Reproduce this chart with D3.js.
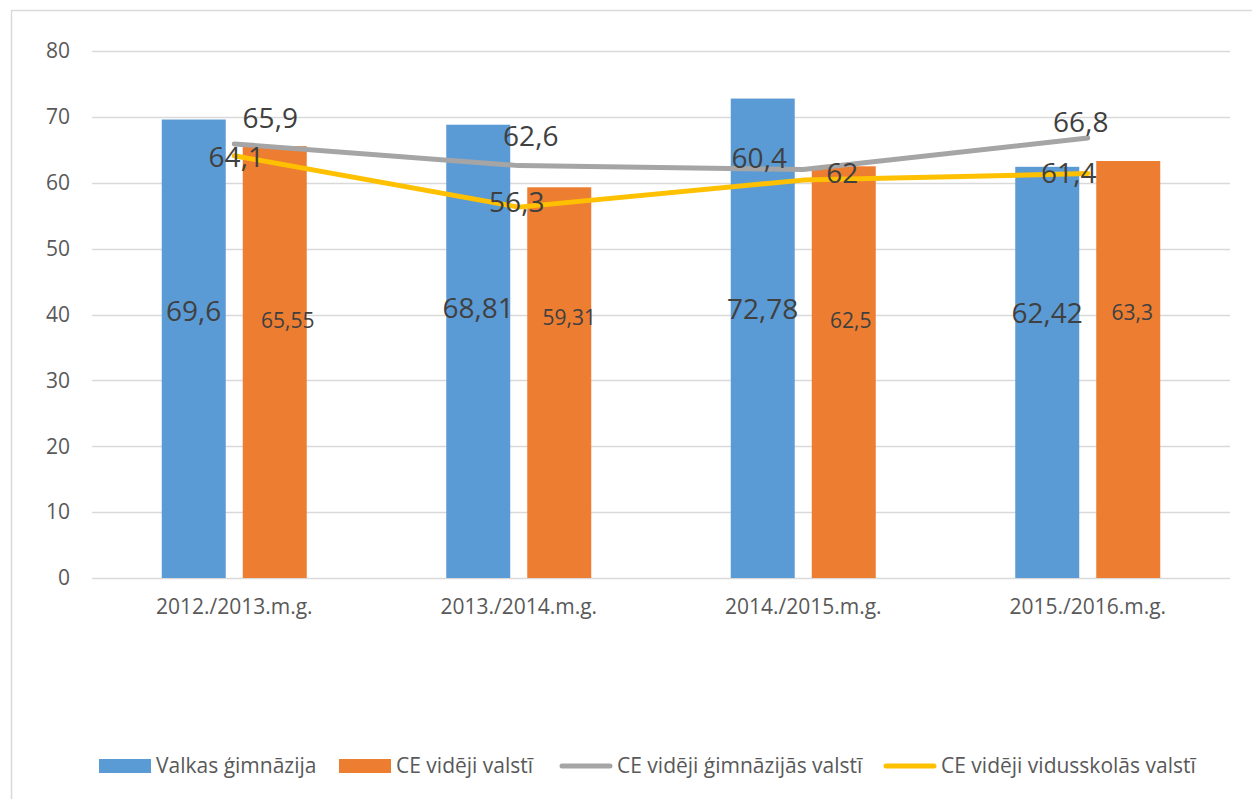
<!DOCTYPE html>
<html>
<head>
<meta charset="utf-8">
<script src="https://cdnjs.cloudflare.com/ajax/libs/d3/7.8.5/d3.min.js"></script>
<style>
  body { margin: 0; background: #fff; }
  text { font-family: "Open Sans", "Noto Sans", sans-serif; }
</style>
</head>
<body>
<div id="chart"></div>
<script>
// data
const years = ['2012./2013.m.g.', '2013./2014.m.g.', '2014./2015.m.g.', '2015./2016.m.g.'];
const valkas = [69.6, 68.81, 72.78, 62.42];          // Valkas ģimnāzija
const ceValsti = [65.55, 59.31, 62.5, 63.3];        // CE vidēji valstī
const ceGimnazijas = [65.9, 62.6, 62, 66.8];        // CE vidēji ģimnāzijās valstī
const ceVidusskolas = [64.1, 56.3, 60.4, 61.4];     // CE vidēji vidusskolās valstī
const yTicks = [0, 10, 20, 30, 40, 50, 60, 70, 80];

const seriesNames = ['Valkas ģimnāzija', 'CE vidēji valstī', 'CE vidēji ģimnāzijās valstī', 'CE vidēji vidusskolās valstī'];
const colors = ['#5b9bd5', '#ed7d31', '#a5a5a5', '#ffc000'];

// label nudges (the source chart had hand placed labels)
const barLabelPos = [
  [[0, -4], [0, -7], [0, -6], [0, -2]],     // blue, around y(40)
  [[13, 6], [10, 3], [7, 6], [4, -2]]       // orange
];
const lineLabelPos = [
  [[36, -26], [12, -30], [39, 3], [-7, -16]],   // grey
  [[2, 1], [-2, -5], [-44, -22], [-19, -1]]     // yellow
];

const width = 1252, height = 799;
const plot = {left: 92, right: 1230, top: 51, bottom: 578};

const svg = d3.select('#chart').append('svg')
    .attr('width', width)
    .attr('height', height);

// chart frame
svg.append('rect')
    .attr('x', 11.5).attr('y', 10.5)
    .attr('width', width + 10).attr('height', height + 10)
    .attr('fill', '#fff')
    .attr('stroke', '#d9d9d9')
    .attr('stroke-width', 1.5);

const x = d3.scaleBand().domain(years).range([plot.left, plot.right]).paddingInner(0).paddingOuter(0);
const y = d3.scaleLinear().domain([0, 80]).range([plot.bottom, plot.top]);
const xSub = d3.scaleBand().domain([0, 1]).range([-72.5, 72.5]).paddingInner(0.21).paddingOuter(0);
const cx = d => x(d) + x.bandwidth() / 2;

// gridlines
svg.append('g')
    .selectAll('line')
    .data(yTicks)
    .enter().append('line')
    .attr('x1', plot.left).attr('x2', plot.right)
    .attr('y1', d => Math.round(y(d)) + 0.5)
    .attr('y2', d => Math.round(y(d)) + 0.5)
    .attr('stroke', '#d9d9d9')
    .attr('stroke-width', 1.5);

// y tick labels
svg.append('g')
    .selectAll('text')
    .data(yTicks)
    .enter().append('text')
    .attr('x', 70)
    .attr('y', d => y(d))
    .attr('dy', '0.35em')
    .attr('text-anchor', 'end')
    .attr('fill', '#595959')
    .style('font-size', '21px')
    .text(d => d);

// x category labels
svg.append('g')
    .selectAll('text')
    .data(years)
    .enter().append('text')
    .attr('x', d => cx(d))
    .attr('y', 614)
    .attr('text-anchor', 'middle')
    .attr('fill', '#595959')
    .style('font-size', '21px')
    .text(d => d);

// bars
const barSeries = [valkas, ceValsti];
barSeries.forEach(function(vals, s){
    svg.append('g')
        .selectAll('rect')
        .data(vals)
        .enter().append('rect')
        .attr('x', (d, i) => cx(years[i]) + xSub(s))
        .attr('y', d => y(d))
        .attr('width', xSub.bandwidth())
        .attr('height', d => y(0) - y(d))
        .attr('fill', colors[s]);
});

// lines
const lineSeries = [ceGimnazijas, ceVidusskolas];
const line = d3.line()
    .x((d, i) => cx(years[i]))
    .y(d => y(d));
lineSeries.forEach(function(vals, s){
    svg.append('path')
        .datum(vals)
        .attr('d', line)
        .attr('fill', 'none')
        .attr('stroke', colors[s + 2])
        .attr('stroke-width', 5)
        .attr('stroke-linecap', 'round')
        .attr('stroke-linejoin', 'round');
});

const fmt = v => String(v).replace('.', ',');

// bar labels
barSeries.forEach(function(vals, s){
    svg.append('g')
        .selectAll('text')
        .data(vals)
        .enter().append('text')
        .attr('x', (d, i) => cx(years[i]) + xSub(s) + xSub.bandwidth() / 2 + barLabelPos[s][i][0])
        .attr('y', (d, i) => y(40) + barLabelPos[s][i][1])
        .attr('dy', '0.36em')
        .attr('text-anchor', 'middle')
        .attr('fill', '#404040')
        .style('font-size', s === 0 ? '28px' : '21px')
        .text(d => fmt(d));
});

// line labels
lineSeries.forEach(function(vals, s){
    svg.append('g')
        .selectAll('text')
        .data(vals)
        .enter().append('text')
        .attr('x', (d, i) => cx(years[i]) + lineLabelPos[s][i][0])
        .attr('y', (d, i) => y(d) + lineLabelPos[s][i][1])
        .attr('dy', '0.36em')
        .attr('text-anchor', 'middle')
        .attr('fill', '#404040')
        .style('font-size', '28px')
        .text(d => fmt(d));
});

// legend
const legendX = [99, 339, 560, 884];
const legend = svg.append('g')
    .selectAll('g')
    .data(seriesNames)
    .enter().append('g')
    .attr('transform', (d, i) => 'translate(' + legendX[i] + ',766)');
legend.each(function(d, i){
    const g = d3.select(this);
    if(i < 2){
        g.append('rect')
            .attr('x', 0).attr('y', -7)
            .attr('width', 52).attr('height', 14)
            .attr('fill', colors[i]);
    } else {
        g.append('line')
            .attr('x1', 2).attr('x2', 50)
            .attr('y1', 0).attr('y2', 0)
            .attr('stroke', colors[i])
            .attr('stroke-width', 5)
            .attr('stroke-linecap', 'round');
    }
    g.append('text')
        .attr('x', 57)
        .attr('dy', '0.35em')
        .attr('fill', '#595959')
        .style('font-size', '21px')
        .text(d);
});
</script>
</body>
</html>
